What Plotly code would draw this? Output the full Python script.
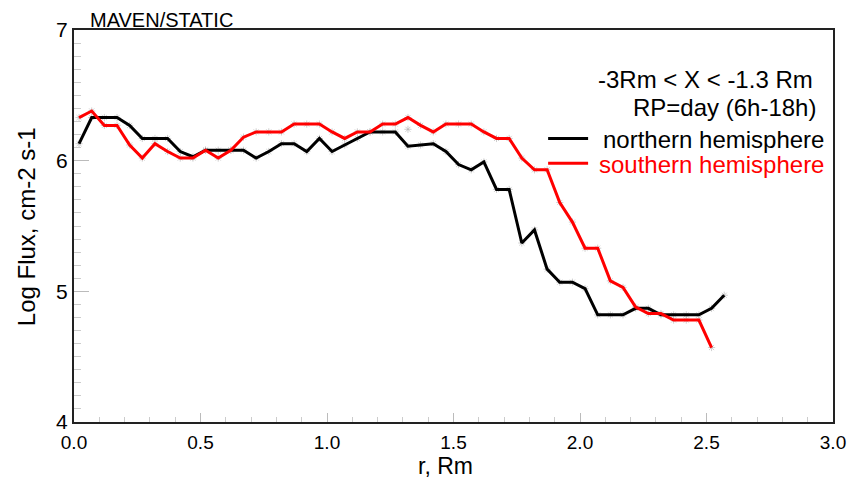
import plotly.graph_objects as go

# r positions (Rm), one bin every 0.05
r_north = [0.02 + 0.05 * i for i in range(52)]
r_south = [0.02 + 0.05 * i for i in range(51)]

flux_north = [6.13, 6.33, 6.33, 6.33, 6.27, 6.17, 6.17, 6.17, 6.07, 6.03,
              6.08, 6.08, 6.08, 6.08, 6.02, 6.07, 6.13, 6.13, 6.07, 6.17,
              6.07, 6.12, 6.17, 6.22, 6.22, 6.22, 6.11, 6.12, 6.13, 6.07,
              5.97, 5.93, 5.99, 5.78, 5.78, 5.37, 5.47, 5.17, 5.07, 5.07,
              5.02, 4.82, 4.82, 4.82, 4.87, 4.87, 4.82, 4.82, 4.82, 4.82,
              4.87, 4.97]

flux_south = [6.33, 6.38, 6.27, 6.27, 6.12, 6.02, 6.13, 6.07, 6.02, 6.02,
              6.08, 6.02, 6.08, 6.18, 6.22, 6.22, 6.22, 6.28, 6.28, 6.28,
              6.22, 6.17, 6.22, 6.22, 6.28, 6.28, 6.33, 6.27, 6.22, 6.28,
              6.28, 6.28, 6.22, 6.17, 6.17, 6.02, 5.93, 5.93, 5.68, 5.53,
              5.33, 5.33, 5.08, 5.03, 4.88, 4.83, 4.83, 4.78, 4.78, 4.78,
              4.57]

stray_x = [1.32]
stray_y = [6.24]

x_ticks = [0.0, 0.5, 1.0, 1.5, 2.0, 2.5, 3.0]
x_ticklabels = ["0.0", "0.5", "1.0", "1.5", "2.0", "2.5", "3.0"]
y_ticks = [4, 5, 6, 7]

FONT = "Arial, Liberation Sans, sans-serif"

fig = go.Figure()

# faint vertex markers (behind the lines)
fig.add_trace(go.Scatter(x=r_north + r_south + stray_x,
                         y=flux_north + flux_south + stray_y,
                         mode="markers",
                         marker=dict(symbol="asterisk-open", size=6,
                                     color="rgba(175,175,175,0.6)",
                                     line=dict(color="rgba(175,175,175,0.6)", width=1)),
                         showlegend=False, hoverinfo="skip"))

fig.add_trace(go.Scatter(x=r_north, y=flux_north, mode="lines",
                         line=dict(color="black", width=3),
                         name="northern hemisphere", showlegend=False))
fig.add_trace(go.Scatter(x=r_south, y=flux_south, mode="lines",
                         line=dict(color="#ff0000", width=3),
                         name="southern hemisphere", showlegend=False))

# legend samples
fig.add_shape(type="line", x0=1.874, x1=2.032, y0=6.17, y1=6.17,
              line=dict(color="black", width=3), xref="x", yref="y")
fig.add_shape(type="line", x0=1.874, x1=2.032, y0=5.98, y1=5.98,
              line=dict(color="#ff0000", width=3), xref="x", yref="y")

ann = [
    dict(x=2.93, y=6.62, text="-3Rm &lt; X &lt; -1.3 Rm", color="black"),
    dict(x=2.94, y=6.405, text="RP=day (6h-18h)", color="black"),
    dict(x=2.972, y=6.165, text="northern hemisphere", color="black"),
    dict(x=2.972, y=5.97, text="southern hemisphere", color="#ff0000"),
]
for a in ann:
    fig.add_annotation(x=a["x"], y=a["y"], xref="x", yref="y", text=a["text"],
                       showarrow=False, xanchor="right", yanchor="middle",
                       font=dict(family=FONT, size=24, color=a["color"]))

fig.add_annotation(x=0.018, y=1.0, xref="paper", yref="paper",
                   text="MAVEN/STATIC", showarrow=False,
                   xanchor="left", yanchor="bottom", yshift=-3,
                   font=dict(family=FONT, size=20, color="black"))

# axis titles
fig.add_annotation(x=0.489, y=0, xref="paper", yref="paper", text="r, Rm",
                   showarrow=False, xanchor="center", yanchor="middle",
                   yshift=-44, font=dict(family=FONT, size=23, color="black"))
fig.add_annotation(x=0, y=0.497, xref="paper", yref="paper",
                   text="Log Flux, cm-2 s-1", textangle=-90,
                   showarrow=False, xanchor="center", yanchor="middle",
                   xshift=-48, font=dict(family=FONT, size=24, color="black"))

fig.update_layout(
    width=854, height=487,
    margin=dict(l=74, r=21, t=30, b=65),
    paper_bgcolor="white", plot_bgcolor="white",
    font=dict(family=FONT, color="black"),
    xaxis=dict(range=[0, 3], tickvals=x_ticks, ticktext=x_ticklabels,
               ticks="inside", ticklen=9, tickcolor="#bbbbbb", tickwidth=1,
               showgrid=False, zeroline=False, automargin=False,
               showline=True, linecolor="#222222", linewidth=2, mirror=True,
               tickfont=dict(family=FONT, size=19, color="black"),
               ticklabelstandoff=2,
               minor=dict(dtick=0.1, ticks="inside", ticklen=5,
                          tickcolor="#cccccc", tickwidth=1)),
    yaxis=dict(range=[4, 7], tickvals=y_ticks,
               ticks="inside", ticklen=15, tickcolor="#bbbbbb", tickwidth=1,
               showgrid=False, zeroline=False, automargin=False,
               showline=True, linecolor="#222222", linewidth=2, mirror=True,
               tickfont=dict(family=FONT, size=21, color="black"),
               minor=dict(dtick=0.1, ticks="inside", ticklen=7,
                          tickcolor="#cccccc", tickwidth=1)),
)

fig.write_html("out.html")
